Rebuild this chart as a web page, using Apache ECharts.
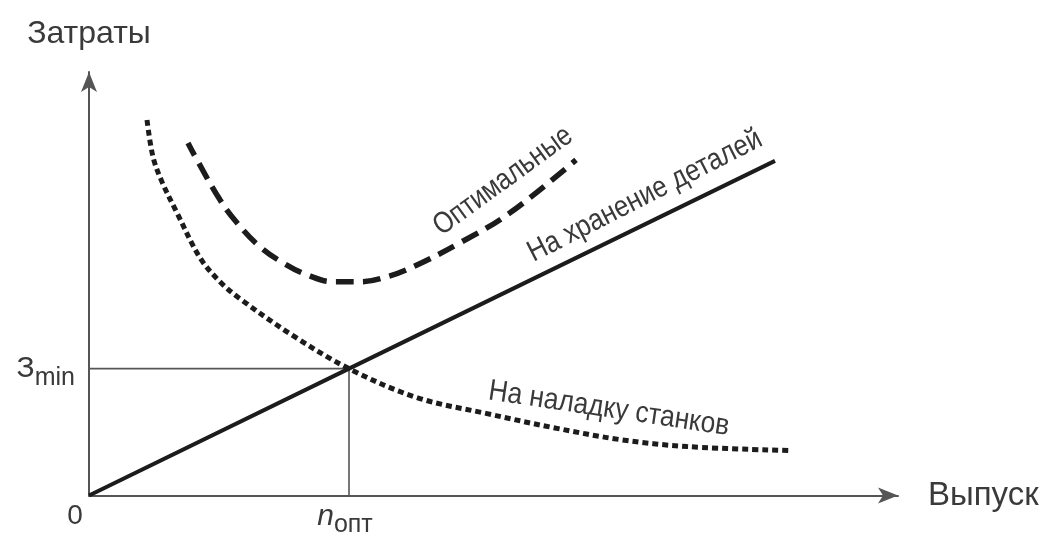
<!DOCTYPE html>
<html>
<head>
<meta charset="utf-8">
<script src="https://cdn.jsdelivr.net/npm/echarts@6/dist/echarts.min.js"></script>
<style>
  html, body { margin: 0; padding: 0; background: #fff; }
  #chart { width: 1042px; height: 538px; }
</style>
</head>
<body>
<div id="chart"></div>
<script>
// оси: выпуск (x) и затраты (y), условные единицы
const xMax = 809
const yMax = 424
const nOpt = 260
const zMin = 127

// затраты на хранение деталей (прямая)
const storageCost = [[0, 0], [nOpt, zMin], [686, 335]]
// затраты на наладку станков (пунктир точками)
const setupCost = [
  [58, 376], [64, 339], [73, 314], [88, 283], [111, 238], [131, 214], [151, 197], [204, 160],
  [nOpt, zMin], [328, 98], [398, 82], [464, 68], [531, 56], [598, 49], [701, 45]
]
// оптимальные (суммарные) затраты
const optimalCost = [
  [99, 353], [108, 336], [131, 296], [148, 273], [171, 249], [194, 233], [218, 221],
  [244, 214], [271, 214], [298, 219], [324, 229], [371, 253], [421, 283], [487, 336]
]
// вспомогательные линии к точке оптимума
const guideLines = [[0, zMin], [nOpt, zMin], [nOpt, 0]]

const chart = echarts.init(document.getElementById('chart'))
const curveColor = '#1c1c1c'
const axisColor = '#555'
const textColor = '#3a3a3a'
const labelFont = '30px "Liberation Sans"'

const option = {
  animation: false,
  grid: { left: 89, right: 144, top: 72, bottom: 42 },
  xAxis: {
    type: 'value',
    min: 0,
    max: xMax,
    name: 'Выпуск',
    nameGap: 30,
    nameTextStyle: { fontFamily: 'Liberation Sans', fontSize: 33, color: textColor },
    axisLine: { lineStyle: { color: axisColor, width: 2 }, symbol: ['none', 'arrow'], symbolSize: [12, 20] },
    axisTick: { show: false },
    splitLine: { show: false },
    axisLabel: {
      customValues: [0, nOpt],
      margin: 6,
      formatter: v => v === 0 ? '{z|0}' : '{n|n}{s|опт}',
      rich: {
        z: { fontFamily: 'Liberation Sans', fontSize: 28, color: textColor, padding: [0, 28, 0, 0], lineHeight: 30 },
        n: { fontFamily: 'Liberation Sans', fontStyle: 'italic', fontSize: 30, color: textColor, lineHeight: 30 },
        s: { fontFamily: 'Liberation Sans', fontSize: 25, color: textColor, lineHeight: 26, padding: [18, 8, 0, 0] }
      }
    }
  },
  yAxis: {
    type: 'value',
    min: 0,
    max: yMax,
    name: 'Затраты',
    nameGap: 22,
    nameTextStyle: { fontFamily: 'Liberation Sans', fontSize: 32, color: textColor, align: 'center' },
    axisLine: { lineStyle: { color: axisColor, width: 2 }, symbol: ['none', 'arrow'], symbolSize: [12, 20] },
    axisTick: { show: false },
    splitLine: { show: false },
    axisLabel: {
      customValues: [zMin],
      margin: 14,
      formatter: () => '{a|З}{b|min}',
      rich: {
        a: { fontFamily: 'Liberation Sans', fontSize: 30, color: textColor, lineHeight: 30 },
        b: { fontFamily: 'Liberation Sans', fontSize: 25, color: textColor, lineHeight: 26, padding: [18, 0, 0, 0] }
      }
    }
  },
  series: [
    {
      name: 'Вспомогательные',
      type: 'line',
      data: guideLines,
      symbol: 'none',
      lineStyle: { color: axisColor, width: 1.6 },
      z: 1
    },
    {
      name: 'На хранение деталей',
      type: 'line',
      data: storageCost,
      symbol: 'none',
      lineStyle: { color: curveColor, width: 4 },
      z: 3
    },
    {
      name: 'На наладку станков',
      type: 'line',
      data: setupCost,
      symbol: 'none',
      smooth: 0.35,
      lineStyle: { color: curveColor, width: 5, type: [6, 4] },
      z: 3
    },
    {
      name: 'Оптимальные',
      type: 'line',
      data: optimalCost,
      symbol: 'none',
      smooth: 0.4,
      lineStyle: { color: curveColor, width: 5.5, type: [18, 9], dashOffset: 4 },
      z: 3
    }
  ],
  graphic: [
    {
      type: 'text', x: 503, y: 181, rotation: 36 * Math.PI / 180, scaleX: 0.84,
      style: { text: 'Оптимальные', font: labelFont, fill: textColor, align: 'center', verticalAlign: 'middle' }
    },
    {
      type: 'text', x: 645, y: 196, rotation: 27 * Math.PI / 180, scaleX: 0.86,
      style: { text: 'На хранение деталей', font: labelFont, fill: textColor, align: 'center', verticalAlign: 'middle' }
    },
    {
      type: 'text', x: 609, y: 409, rotation: -8.5 * Math.PI / 180, scaleX: 0.88,
      style: { text: 'На наладку станков', font: labelFont, fill: textColor, align: 'center', verticalAlign: 'middle' }
    }
  ]
}
chart.setOption(option)
</script>
</body>
</html>
